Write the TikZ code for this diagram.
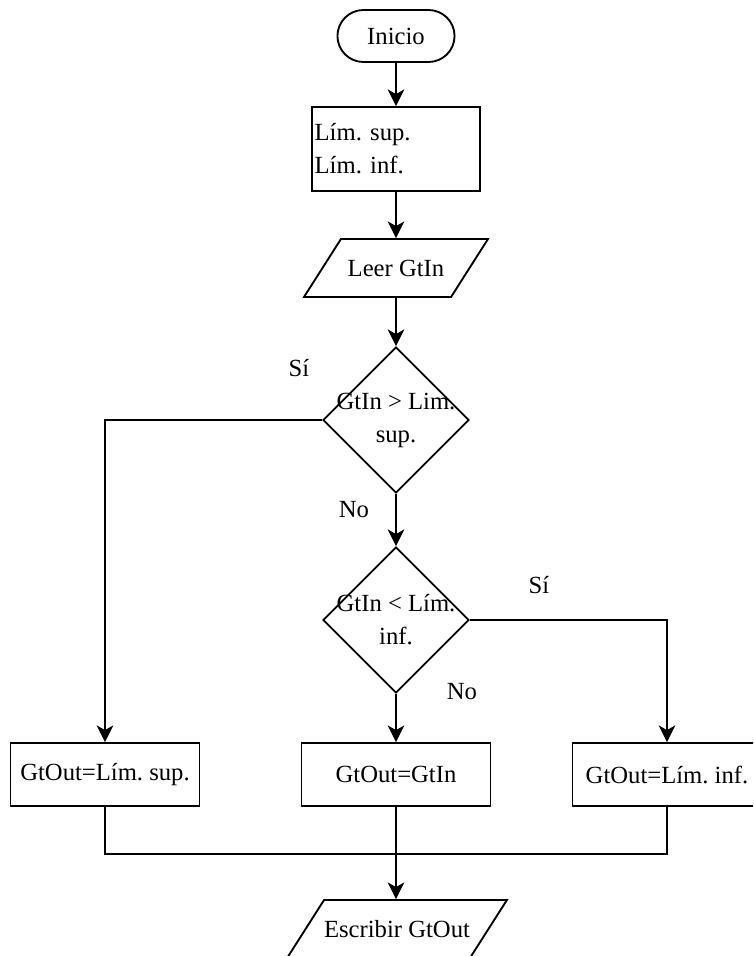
\documentclass[tikz,border=0pt]{standalone}
\usepackage{fontspec}
\setmainfont{Liberation Serif}
\frenchspacing
\usetikzlibrary{shapes.geometric, shapes.misc, arrows.meta}

\begin{document}
\begin{tikzpicture}[x=0.75pt, y=-0.75pt, line width=1.4pt,
  every node/.style={font=\fontsize{18.5}{24.75}\selectfont},
  flecha/.style={-{Stealth[length=12.5pt, width=12.5pt, inset=3.5pt]}},
  terminal/.style={draw, rounded rectangle, minimum width=94.5pt, minimum height=39pt},
  caja/.style={draw, rectangle, minimum width=141.75pt, minimum height=47.25pt, inner sep=0pt},
  datos/.style={draw, trapezium, trapezium left angle=57.5, trapezium right angle=122.5,
    trapezium stretches body, minimum width=138pt, text height=12pt, text depth=0pt,
    inner xsep=0pt, inner ysep=15.75pt},
  decision/.style={draw, diamond, minimum width=109.5pt, minimum height=109.5pt, inner sep=0pt}]
  \clip (0,0) rectangle (753,956);

  \node[terminal] (inicio) at (396,36) {Inicio};
  \node[draw, rectangle, minimum width=126pt, minimum height=63pt, text width=122pt,
    inner xsep=2pt, align=left] (limites) at (396,149) {Lím. sup.\\Lím. inf.};
  \node[datos] (leer) at (396,268) {Leer GtIn};

  \node[decision] (q1) at (396,420) {};
  \node[align=center] (q1txt) at (q1) {GtIn > Lim.\\sup.};
  \node[decision] (q2) at (396,620) {};
  \node[align=center] (q2txt) at (q2) {GtIn < Lím.\\inf.};

  \node[caja] (gsup) at (105,774.5) {GtOut=Lím. sup.};
  \node[caja] (gin) at (396,774.5) {GtOut=GtIn};
  \node[caja] (ginf) at (667,774.5) {GtOut=Lím. inf.};
  \node[datos, minimum width=153.75pt] (escribir) at (397,929) {Escribir GtOut};
  \coordinate (junta) at (396,854);

  \node (si1) at (299,368) {Sí};
  \node (no1) at (354,510) {No};
  \node (si2) at (539,585) {Sí};
  \node (no2) at (462,692) {No};

  \draw[flecha] (inicio) -- (limites);
  \draw[flecha] (limites) -- (leer);
  \draw[flecha] (leer) -- (q1);
  \draw[flecha] (q1) -- (q2);
  \draw[flecha] (q2) -- (gin);
  \draw[flecha] (q1.west) -| (gsup.north);
  \draw[flecha] (q2.east) -| (ginf.north);
  \draw (gsup.south) |- (junta) -| (ginf.south);
  \draw[flecha] (gin.south) -- (gin.south |- escribir.north);
\end{tikzpicture}
\end{document}
